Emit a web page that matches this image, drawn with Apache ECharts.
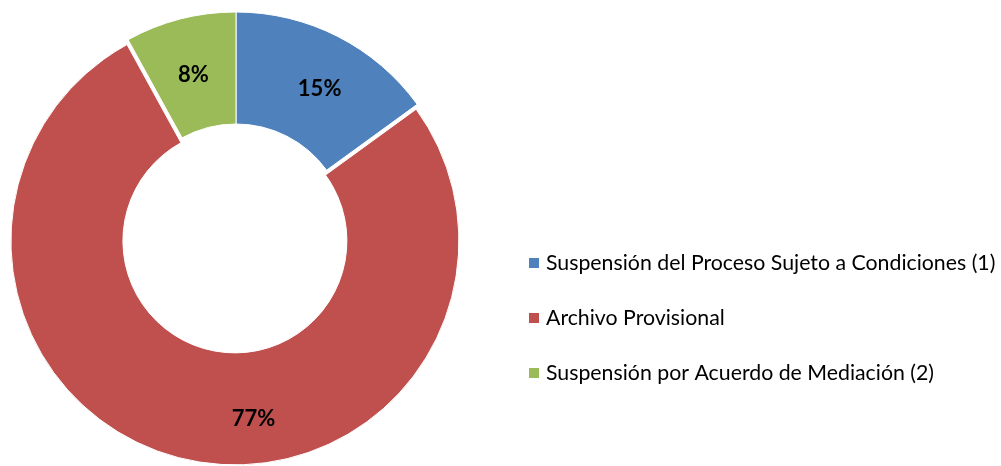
<!DOCTYPE html>
<html>
<head>
<meta charset="utf-8">
<script src="https://cdn.jsdelivr.net/npm/echarts@6/dist/echarts.min.js"></script>
<style>
    html, body { margin: 0; padding: 0; background: #fff; }
    #chart { width: 1001px; height: 466px; }
</style>
</head>
<body>
<div id="chart"></div>
<script>
// datos del gráfico
var categorias = [
    'Suspensión del Proceso Sujeto a Condiciones (1)',
    'Archivo Provisional',
    'Suspensión por Acuerdo de Mediación (2)'
];
var valores = [15, 77, 8];
var colores = ['#4F81BD', '#C0504D', '#9BBB59'];

var fuente = 'Lato, "Open Sans", sans-serif';

var datos = categorias.map(function (nombre, i) {
    var item = { name: nombre, value: valores[i], itemStyle: { color: colores[i] } };
    if (i === 1) {
        // la porción roja va separada
        item.selected = true;
    }
    return item;
});

// pequeños ajustes de etiqueta para parecerse a Excel
var ajustes = [[6, 5], [56, 11], [0, 5]];

var chart = echarts.init(document.getElementById('chart'));
chart.setOption({
    animation: false,
    legend: {
        orient: 'vertical',
        left: 527,
        top: 251,
        padding: 0,
        itemWidth: 12,
        itemHeight: 12,
        itemGap: 31,
        icon: 'rect',
        selectedMode: false,
        textStyle: {
            fontFamily: fuente,
            fontSize: 21.3,
            lineHeight: 24,
            color: '#000',
            padding: [0, 0, 0, 1]
        },
        data: categorias
    },
    series: [
        {
            type: 'pie',
            center: [236, 236],
            radius: [112, 224],
            startAngle: 90,
            clockwise: true,
            selectedMode: 'single',
            selectedOffset: 5,
            avoidLabelOverlap: false,
            label: {
                show: true,
                position: 'inside',
                formatter: '{d}%',
                fontFamily: fuente,
                fontSize: 22,
                fontWeight: 'bold',
                color: '#000'
            },
            labelLayout: function (params) {
                var a = ajustes[params.dataIndex];
                return { dx: a[0], dy: a[1] };
            },
            labelLine: { show: false },
            itemStyle: {
                borderColor: '#fff',
                borderWidth: 1
            },
            emphasis: { disabled: true },
            select: {
                itemStyle: { borderColor: '#fff', borderWidth: 1 }
            },
            data: datos
        }
    ]
});
</script>
</body>
</html>
